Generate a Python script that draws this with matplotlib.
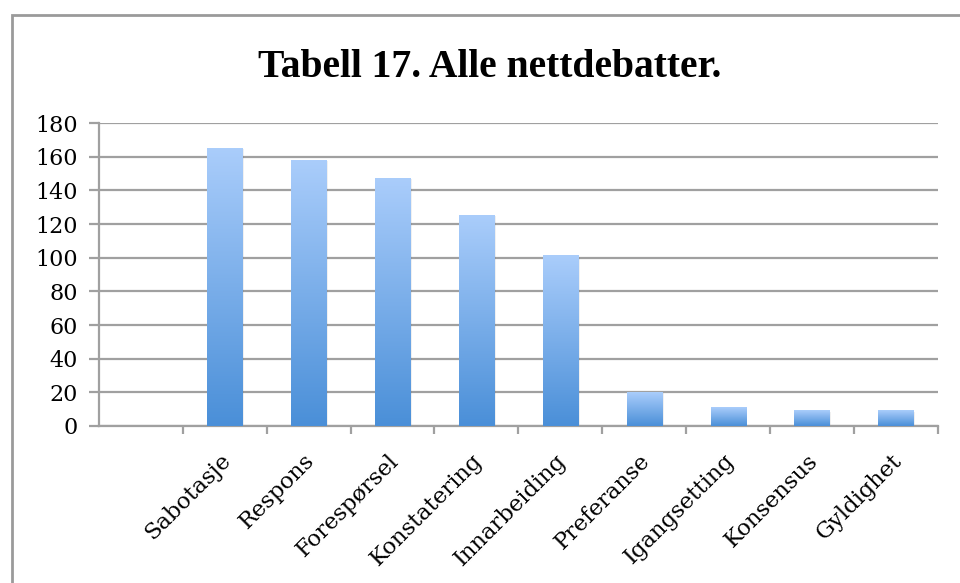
import numpy as np
import matplotlib.pyplot as plt
import matplotlib.transforms as mtransforms
from matplotlib.colors import LinearSegmentedColormap
from matplotlib.patches import Rectangle

categories = ["", "Sabotasje", "Respons", "Forespørsel", "Konstatering", "Innarbeiding",
              "Preferanse", "Igangsetting", "Konsensus", "Gyldighet"]
values = [0, 165, 158, 147, 125, 101, 20, 11, 9, 9]
yticks = [0, 20, 40, 60, 80, 100, 120, 140, 160, 180]

title = "Tabell 17. Alle nettdebatter."
grid_col = "#a0a0a0"
bar_cmap = LinearSegmentedColormap.from_list("xl", ["#4a8fd8", "#aacdfb"])

fig = plt.figure(figsize=(9.6, 5.83), dpi=100)
ax = fig.add_axes([0.103, 0.2693, 0.874, 0.5197])

# outer chart border (Excel chart area)
fig.patches.append(Rectangle((12 / 960, -0.1), 1.2, 1 - 15 / 583 + 0.1, transform=fig.transFigure,
                             fill=False, edgecolor="#9a9a9a", linewidth=2))

x = np.arange(len(categories))
width = 0.42
bars = ax.bar(x, values, width=width, color="none", zorder=3)
grad = np.linspace(0, 1, 256).reshape(-1, 1)
for b in bars:
    h = b.get_height()
    if h <= 0:
        continue
    x0 = b.get_x()
    # soft shadow
    ax.add_patch(Rectangle((x0 + 0.02, 0), width, h - 0.5, facecolor="#000000", alpha=0.06,
                           linewidth=0, zorder=2))
    ax.imshow(grad, cmap=bar_cmap, origin="lower", aspect="auto",
              extent=(x0, x0 + width, 0, h), zorder=3, interpolation="bilinear")

ax.set_xlim(-0.5, len(categories) - 0.5)
ax.set_ylim(0, 180)
ax.set_yticks(yticks)
ax.grid(axis="y", color=grid_col, linewidth=1.6, zorder=1)
ax.set_axisbelow(True)

for s in ["top", "right"]:
    ax.spines[s].set_visible(False)
for s in ["left", "bottom"]:
    ax.spines[s].set_color(grid_col)
    ax.spines[s].set_linewidth(1.6)

ax.tick_params(axis="y", length=7, width=1.6, color=grid_col, pad=8, labelsize=16)
ax.set_xticks(np.arange(len(categories)) + 0.5, minor=True)
ax.set_xticks(x)
ax.set_xticklabels(categories, rotation=45, ha="right", va="top", rotation_mode="anchor",
                   fontsize=16.3)
ax.tick_params(axis="x", which="major", length=0, pad=17)
ax.tick_params(axis="x", which="minor", length=6, width=1.6, color=grid_col)
for lbl in ax.get_yticklabels() + ax.get_xticklabels():
    lbl.set_fontfamily("DejaVu Serif")
off = mtransforms.ScaledTranslation(-5 / 100, 0, fig.dpi_scale_trans)
for lbl in ax.get_xticklabels():
    lbl.set_transform(lbl.get_transform() + off)

fig.text(0.51, 1 - 77 / 583, title, ha="center", va="baseline", fontsize=28.5,
         fontweight="bold", family="Liberation Serif")

fig.savefig("out.png", dpi=100)
